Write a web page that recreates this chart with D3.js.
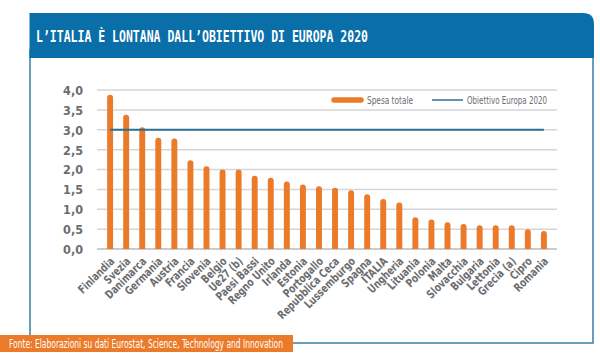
<!DOCTYPE html>
<html>
<head>
<meta charset="utf-8">
<script src="https://cdn.jsdelivr.net/npm/d3@7"></script>
<style>
  html, body { margin: 0; padding: 0; background: #fff; }
  svg { display: block; }
  .cond { font-family: "Liberation Sans Narrow", "DejaVu Sans Condensed", "Roboto Condensed", sans-serif; }
</style>
</head>
<body>
<div id="chart"></div>
<script>
const countries = ["Finlandia","Svezia","Danimarca","Germania","Austria","Francia","Slovenia","Belgio","Ue27 (b)","Paesi Bassi","Regno Unito","Irlanda","Estonia","Portogallo","Repubblica Ceca","Lussemburgo","Spagna","ITALIA","Ungheria","Lituania","Polonia","Malta","Slovacchia","Bulgaria","Lettonia","Grecia (a)","Cipro","Romania"];
const spesaTotale = [3.88,3.38,3.06,2.80,2.78,2.23,2.08,2.00,2.00,1.84,1.79,1.70,1.62,1.58,1.54,1.48,1.38,1.26,1.17,0.80,0.74,0.67,0.63,0.60,0.60,0.60,0.50,0.45];
const obiettivo = 3.0;
const yTicks = [0,0.5,1,1.5,2,2.5,3,3.5,4];
const yTickLabels = ["0,0","0,5","1,0","1,5","2,0","2,5","3,0","3,5","4,0"];
const title = "L\u2019ITALIA \u00C8 LONTANA DALL\u2019OBIETTIVO DI EUROPA 2020";
const source = "Fonte: Elaborazioni su dati Eurostat, Science, Technology and Innovation";
const legendLabels = ["Spesa totale","Obiettivo Europa 2020"];

const W = 600, H = 358;
const BLUE = "#0a6ea9", ORANGE = "#eb7a29", LINEBLUE = "#2c6f95", GRAY = "#6b6d70";

const svg = d3.select("#chart").append("svg").attr("width", W).attr("height", H);

// frame
svg.append("rect").attr("x", 30).attr("y", 50).attr("width", 563).attr("height", 293)
  .attr("fill", "#fff").attr("stroke", "#3a7ea6").attr("stroke-width", 1.5);
// header with rounded top-right corner
const hx0 = 29.5, hx1 = 594, hy0 = 13, hy1 = 58, r = 11;
svg.append("path")
  .attr("d", `M${hx0},${hy0} L${hx1 - r},${hy0} Q${hx1},${hy0} ${hx1},${hy0 + r} L${hx1},${hy1} L${hx0},${hy1} Z`)
  .attr("fill", BLUE);
svg.append("text").attr("x", 36).attr("y", 42)
  .attr("font-family", "'DejaVu Sans Mono', monospace").attr("font-weight", "bold")
  .attr("font-size", 15.5).attr("fill", "#fff")
  .attr("textLength", 332).attr("lengthAdjust", "spacingAndGlyphs")
  .text(title);

// scales
const x = d3.scaleBand().domain(countries).range([97, 557]).padding(0.63);
const y = d3.scaleLinear().domain([0, 4]).range([249, 90]);

// gridlines
svg.append("g").selectAll("line").data(yTicks).join("line")
  .attr("x1", 97).attr("x2", 557)
  .attr("y1", d => y(d)).attr("y2", d => y(d))
  .attr("stroke", d => d === 0 ? "#b9babc" : "#d6d6d8").attr("stroke-width", 1.5);

// y axis
const yAxis = d3.axisLeft(y).tickValues(yTicks).tickSize(0).tickPadding(0)
  .tickFormat((d, i) => yTickLabels[i]);
const gy = svg.append("g").attr("transform", "translate(83,0)").call(yAxis);
gy.select(".domain").remove();
gy.selectAll("text").attr("class", "cond").attr("font-size", 12.5).attr("font-weight", "bold")
  .attr("fill", GRAY).attr("dy", "0.35em");

// bars with rounded top
const bw = x.bandwidth(), rr = Math.min(3, bw / 2);
svg.append("g").selectAll("path").data(countries).join("path")
  .attr("d", (c, i) => {
    const x0 = x(c), x1 = x0 + bw, yt = y(spesaTotale[i]), yb = y(0);
    return `M${x0},${yb} L${x0},${yt + rr} Q${x0},${yt} ${x0 + rr},${yt} L${x1 - rr},${yt} Q${x1},${yt} ${x1},${yt + rr} L${x1},${yb} Z`;
  })
  .attr("fill", ORANGE);

// target line
svg.append("line")
  .attr("x1", x(countries[0]) + bw / 2).attr("x2", x(countries[countries.length - 1]) + bw / 2)
  .attr("y1", y(obiettivo)).attr("y2", y(obiettivo))
  .attr("stroke", LINEBLUE).attr("stroke-width", 2);

// x labels
const xAxis = d3.axisBottom(x).tickSize(0).tickPadding(0);
const gx = svg.append("g").attr("transform", "translate(0,249)").call(xAxis);
gx.select(".domain").remove();
gx.selectAll("text")
  .attr("class", "cond").attr("font-size", 11.5).attr("font-weight", "bold").attr("fill", GRAY)
  .attr("text-anchor", "end").attr("dy", null).attr("y", 0)
  .attr("transform", "translate(5,13) rotate(-45) scale(0.85,1)");

// legend
const lg = svg.append("g");
lg.append("line").attr("x1", 334).attr("x2", 361).attr("y1", 100).attr("y2", 100)
  .attr("stroke", ORANGE).attr("stroke-width", 5.5).attr("stroke-linecap", "round");
lg.append("text").attr("class", "cond").attr("x", 367).attr("y", 104)
  .attr("font-size", 11).attr("fill", GRAY)
  .attr("textLength", 46).attr("lengthAdjust", "spacingAndGlyphs").text(legendLabels[0]);
lg.append("line").attr("x1", 432).attr("x2", 463).attr("y1", 100).attr("y2", 100)
  .attr("stroke", LINEBLUE).attr("stroke-width", 1.5);
lg.append("text").attr("class", "cond").attr("x", 467).attr("y", 104)
  .attr("font-size", 11).attr("fill", GRAY)
  .attr("textLength", 80).attr("lengthAdjust", "spacingAndGlyphs").text(legendLabels[1]);

// footer
svg.append("rect").attr("x", 0).attr("y", 335).attr("width", 293).attr("height", 17).attr("fill", ORANGE);
svg.append("text").attr("class", "cond").attr("x", 9).attr("y", 347.5)
  .attr("font-size", 11.5).attr("fill", "#fff")
  .attr("textLength", 274).attr("lengthAdjust", "spacingAndGlyphs")
  .text(source);
</script>
</body>
</html>
